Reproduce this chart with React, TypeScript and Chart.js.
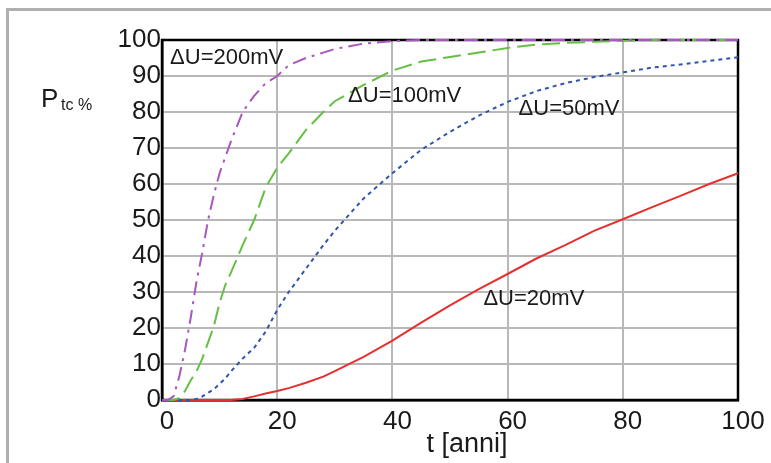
import React, { useEffect, useRef } from "react";
import { Chart, registerables } from "chart.js";

Chart.register(...registerables);

const years = [0, 1, 2, 3, 4, 5, 6, 7, 8, 9, 10, 11, 12, 14, 16, 18, 20, 22, 25, 28, 30, 35, 40, 45, 50, 55, 60, 65, 70, 75, 80, 85, 90, 95, 100];
const p200 = [0, 0, 1, 6.5, 14, 23, 33, 41, 50, 57, 63, 67.5, 72, 80, 84.5, 88, 90, 93, 95, 96.5, 97.5, 99, 99.7, 100, 100, 100, 100, 100, 100, 100, 100, 100, 100, 100, 100];
const p100 = [0, 0, 0, 0.5, 2.5, 5.5, 8, 11.5, 16, 20.5, 27, 32, 35.5, 43, 50, 59, 64.5, 68.5, 75, 80, 83, 87.5, 91.5, 94, 95.3, 96.5, 97.8, 98.7, 99.2, 99.5, 99.8, 100, 100, 100, 100];
const p50 = [0, 0, 0, 0, 0, 0, 0.3, 1, 2, 3, 4.5, 6, 8, 11.5, 14.5, 19, 25, 30, 36.5, 43, 47, 56, 63, 69.5, 74.5, 79, 82.8, 85.8, 88, 89.7, 91, 92.3, 93.2, 94.2, 95.2];
const p20 = [0, 0, 0, 0, 0, 0, 0, 0, 0, 0, 0, 0, 0, 0.3, 1, 1.8, 2.5, 3.3, 4.8, 6.5, 8, 12, 16.5, 21.5, 26.3, 30.8, 35, 39.3, 43, 47, 50.2, 53.5, 56.7, 60, 63];

const curveLabels = ["ΔU=200mV", "ΔU=100mV", "ΔU=50mV", "ΔU=20mV"];
const labelT = [1.4, 32.3, 61.9, 55.8];
const labelP = [95, 84.4, 80.8, 28];

const xTicks = [0, 20, 40, 60, 80, 100];
const yTicks = [0, 10, 20, 30, 40, 50, 60, 70, 80, 90, 100];

const FONT = "'Liberation Sans', Arial, sans-serif";

const pts = (vals: number[]) => years.map((t, i) => ({ x: t, y: vals[i] }));

export default function App() {
  const ref = useRef<HTMLCanvasElement | null>(null);
  useEffect(() => {
    if (!ref.current) return;
    const decor = {
      id: "decor",
      beforeDraw(chart: any) {
        const ctx = chart.ctx;
        ctx.save();
        ctx.fillStyle = "#b0b0b0";
        ctx.fillRect(6, 8, chart.width - 6, 3);
        ctx.fillRect(6, 8, 3, chart.height - 8);
        ctx.restore();
      },
      beforeDatasetsDraw(chart: any) {
        const { ctx, chartArea } = chart;
        ctx.save();
        ctx.strokeStyle = "#000";
        ctx.lineWidth = 2.5;
        ctx.strokeRect(chartArea.left, chartArea.top, chartArea.right - chartArea.left, chartArea.bottom - chartArea.top);
        ctx.restore();
      },
      afterDatasetsDraw(chart: any) {
        const { ctx, chartArea } = chart;
        const xs = chart.scales.x;
        const ys = chart.scales.y;
        ctx.save();
        ctx.fillStyle = "#1a1a1a";
        ctx.font = `22px ${FONT}`;
        ctx.textAlign = "left";
        ctx.textBaseline = "middle";
        curveLabels.forEach((s, i) => {
          ctx.fillText(s, xs.getPixelForValue(labelT[i]), ys.getPixelForValue(labelP[i]));
        });
        ctx.font = `27px ${FONT}`;
        ctx.textAlign = "center";
        ctx.textBaseline = "alphabetic";
        ctx.fillText("t [anni]", (chartArea.left + chartArea.right) / 2 + 17, 452);
        ctx.textAlign = "left";
        ctx.font = `26px ${FONT}`;
        ctx.fillText("P", 41, 107);
        ctx.font = `16px ${FONT}`;
        ctx.fillText("tc %", 61, 110);
        ctx.restore();
      },
    };
    const chart = new Chart(ref.current, {
      type: "line",
      data: {
        datasets: [
          { label: curveLabels[0], data: pts(p200), borderColor: "#a857bd", borderWidth: 2, borderDash: [14, 6, 3, 6], pointRadius: 0, clip: false as any },
          { label: curveLabels[1], data: pts(p100), borderColor: "#66bf45", borderWidth: 2, borderDash: [18, 7], pointRadius: 0, clip: false as any },
          { label: curveLabels[2], data: pts(p50), borderColor: "#2f56ab", borderWidth: 2, borderDash: [4, 4], pointRadius: 0, clip: false as any },
          { label: curveLabels[3], data: pts(p20), borderColor: "#e53030", borderWidth: 2, pointRadius: 0, clip: false as any },
        ],
      },
      options: {
        animation: false,
        responsive: true,
        maintainAspectRatio: false,
        layout: { padding: { top: 40, right: 33, left: 0, bottom: 0 } },
        plugins: { legend: { display: false }, tooltip: { enabled: false }, title: { display: false } },
        scales: {
          x: {
            type: "linear",
            min: 0,
            max: 100,
            afterBuildTicks: (s: any) => { s.ticks = xTicks.map((v) => ({ value: v })); },
            afterFit: (s: any) => { s.height = 63; },
            ticks: { font: { size: 26, family: FONT }, color: "#1a1a1a", padding: 6, labelOffset: 5, maxRotation: 0, autoSkip: false },
            grid: { color: "#b8b8b8", lineWidth: 2, drawTicks: false },
            border: { color: "#000", width: 2.5 },
          },
          y: {
            type: "linear",
            min: 0,
            max: 100,
            afterBuildTicks: (s: any) => { s.ticks = yTicks.map((v) => ({ value: v })); },
            afterFit: (s: any) => { s.width = 162; },
            ticks: { font: { size: 26, family: FONT }, color: "#1a1a1a", padding: 1, autoSkip: false },
            grid: { color: "#b8b8b8", lineWidth: 2, drawTicks: false },
            border: { color: "#000", width: 2.5 },
          },
        },
      },
      plugins: [decor],
    } as any);
    return () => chart.destroy();
  }, []);
  return (
    <div style={{ position: "absolute", left: 0, top: 0, width: 771, height: 463, background: "#fff" }}>
      <canvas ref={ref} />
    </div>
  );
}
